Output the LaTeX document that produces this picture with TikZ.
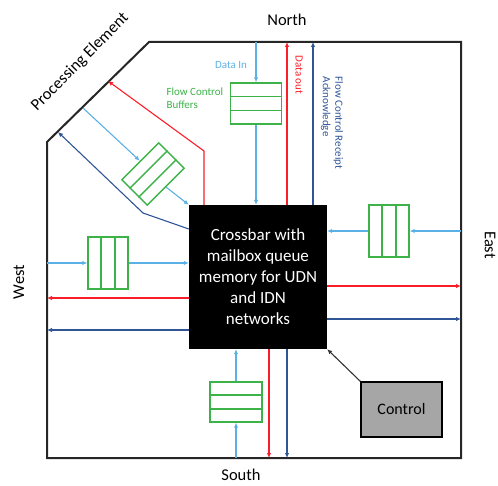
\documentclass[tikz,border=0pt]{standalone}
\usepackage{fontspec}
\setmainfont{Carlito}
\usetikzlibrary{arrows.meta,calc}
\definecolor{dinblue}{RGB}{91,177,230}
\definecolor{doutred}{RGB}{250,30,40}
\definecolor{ackblue}{RGB}{47,85,151}
\definecolor{bufgreen}{RGB}{60,178,72}
\definecolor{ctrlgray}{RGB}{166,166,166}
\begin{document}
\begin{tikzpicture}[x=1pt, y=1pt, >={Latex[length=5pt,width=4.5pt]},
  buf/.style={draw=bufgreen, line width=1.4pt, inner sep=0pt},
  din/.style={->, dinblue, line width=1.1pt},
  dout/.style={->, doutred, line width=1.1pt},
  ack/.style={->, ackblue, line width=1.1pt},
  side/.style={font=\fontsize{16.5}{18}\selectfont},
  small/.style={font=\fontsize{11}{12.5}\selectfont}]
  \useasboundingbox (0,0) rectangle (498,485);
  % tile outline
  \draw[line width=2pt, black!85] (149,443) -- (461,443) -- (461,27) -- (47,27) -- (47,343) -- cycle;
  % crossbar and control
  \node[fill=black, minimum width=138pt, minimum height=144pt, text=white, align=center,
        font=\fontsize{17}{21}\selectfont] (xbar) at (258,208)
        {Crossbar with\\mailbox queue\\memory for UDN\\and IDN\\networks};
  \node[draw, line width=1.6pt, fill=ctrlgray, minimum width=81pt, minimum height=55pt,
        font=\fontsize{16}{18}\selectfont] (ctrl) at (401.5,75.5) {Control};
  % flow control buffers
  \node[buf, minimum width=51pt, minimum height=41pt] (nbuf) at (256,381.5) {};
  \node[buf, minimum width=52pt, minimum height=40pt] (sbuf) at (236,83) {};
  \node[buf, minimum width=40pt, minimum height=52pt] (ebuf) at (389,254) {};
  \node[buf, minimum width=40pt, minimum height=52pt] (wbuf) at (108,222) {};
  \node[buf, minimum width=52pt, minimum height=36pt, rotate=45] (pbuf) at (153,311) {};
  \foreach \b in {nbuf,sbuf,pbuf}
    \foreach \f in {1,2}
      \draw[bufgreen, line width=1.4pt] ($(\b.north west)!\f/3!(\b.south west)$) -- ($(\b.north east)!\f/3!(\b.south east)$);
  \foreach \b in {ebuf,wbuf}
    \foreach \f in {1,2}
      \draw[bufgreen, line width=1.4pt] ($(\b.north west)!\f/3!(\b.north east)$) -- ($(\b.south west)!\f/3!(\b.south east)$);
  % ports on the tile edge
  \coordinate (nIn) at (256,443);
  \coordinate (nOut) at (287,443);
  \coordinate (nAck) at (313,443);
  \coordinate (sIn) at (236,27);
  \coordinate (sOut) at (269,27);
  \coordinate (sAck) at (287,27);
  \coordinate (eIn) at (461,254);
  \coordinate (eOut) at (461,199);
  \coordinate (eAck) at (461,166);
  \coordinate (wIn) at (47,222);
  \coordinate (wOut) at (47,187);
  \coordinate (wAck) at (47,155);
  \coordinate (pIn) at (83,377);
  \coordinate (pOut) at (108,404);
  \coordinate (pAck) at (58,353);
  % north
  \draw[din] (nIn) -- (nbuf.north);
  \draw[din] (nbuf.south) -- (nbuf.south |- xbar.north);
  \draw[dout] (nOut |- xbar.north) -- (nOut);
  \draw[ack] (nAck |- xbar.north) -- (nAck);
  % east
  \draw[din] (eIn) -- (ebuf.east);
  \draw[din] (ebuf.west) -- (ebuf.west -| xbar.east);
  \draw[dout] (eOut -| xbar.east) -- (eOut);
  \draw[ack] (eAck -| xbar.east) -- (eAck);
  % west
  \draw[din] (wIn) -- (wbuf.west);
  \draw[din] (wbuf.east) -- (wbuf.east -| xbar.west);
  \draw[dout] (wOut -| xbar.west) -- (wOut);
  \draw[ack] (wAck -| xbar.west) -- (wAck);
  % south
  \draw[din] (sIn) -- (sbuf.south);
  \draw[din] (sbuf.north) -- (sbuf.north |- xbar.south);
  \draw[dout] (sOut |- xbar.south) -- (sOut);
  \draw[ack] (sAck |- xbar.south) -- (sAck);
  % processing element
  \draw[din] (pIn) -- (pbuf.north);
  \draw[din] (pbuf.south) -- (xbar.north west);
  \draw[dout] (204,280) -- (204,334) -- (pOut);
  \draw[ack] (xbar.west |- 0,256) -- (143,272) -- (pAck);
  % control
  \draw[->, line width=1.1pt, black!80] (ctrl.north west) -- (xbar.south east);
  % labels
  \node[side] (north) at (287,465) {North};
  \node[side] (south) at (241,10) {South};
  \node[side, rotate=90] (west) at (19,203) {West};
  \node[side, rotate=-90] (east) at (490,240) {East};
  \node[side, rotate=45] (pe) at (80,423) {Processing Element};
  \node[small, text=dinblue] (datain) at (231,420) {Data In};
  \node[small, text=bufgreen, align=left, anchor=west] (fcb) at (163,387) {Flow Control\\Buffers};
  \node[small, text=doutred, rotate=-90] (dataout) at (299,410) {Data out};
  \node[small, text=ackblue, rotate=-90, align=left] (fcra) at (332,362) {Flow Control Receipt\\Acknowledge};
\end{tikzpicture}
\end{document}
